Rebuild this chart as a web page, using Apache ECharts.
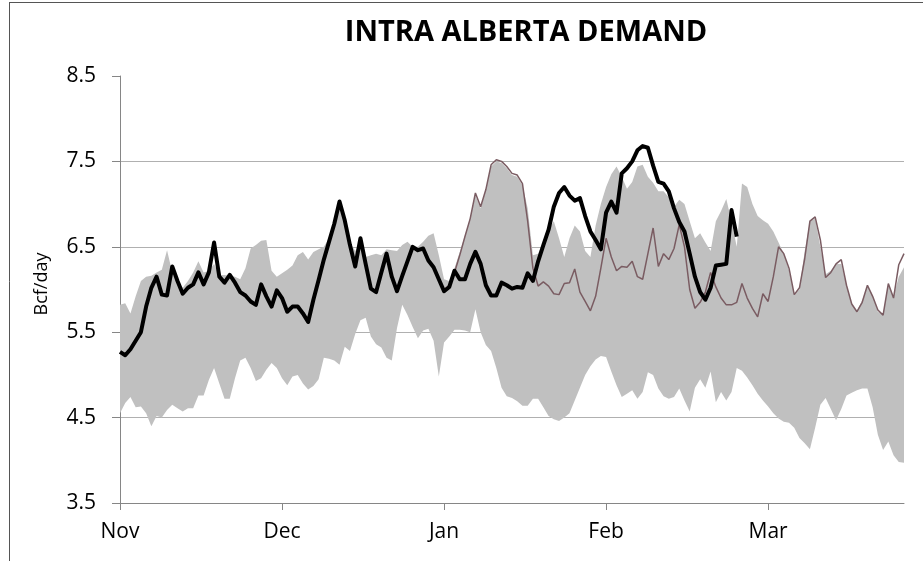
<!DOCTYPE html>
<html>
<head>
<meta charset="utf-8">
<script src="https://cdn.jsdelivr.net/npm/echarts@6/dist/echarts.min.js"></script>
<style>html,body{margin:0;padding:0;background:#fff}#chart{width:923px;height:561px}</style>
</head>
<body>
<div id="chart"></div>
<script>
// ---- data ----
const monthNames = ['Nov', 'Dec', 'Jan', 'Feb', 'Mar'];
const monthDays = [30, 31, 31, 28, 31];
const tickLabels = ['Nov', 'Dec', 'Jan', 'Feb', 'Mar'];

const bandHigh = [
 5.82,5.84,5.72,5.92,6.10,6.15,6.16,6.20,6.23,6.46,
 6.20,6.08,6.02,6.10,6.20,6.33,6.20,6.22,6.30,6.17,
 6.17,6.16,6.15,6.12,6.25,6.48,6.52,6.57,6.58,6.22,
 6.15,6.19,6.23,6.28,6.40,6.44,6.35,6.44,6.47,6.50,
 6.60,6.80,7.00,6.85,6.55,6.45,6.55,6.38,6.40,6.42,
 6.40,6.47,6.46,6.45,6.52,6.56,6.50,6.50,6.56,6.63,
 6.66,6.40,6.12,6.10,6.25,6.44,6.63,6.84,7.10,6.95,
 7.17,7.44,7.50,7.48,7.42,7.34,7.32,7.22,6.95,6.40,
 6.42,6.55,6.70,6.80,6.60,6.38,6.60,6.75,6.68,6.45,
 6.38,6.75,7.00,7.20,7.35,7.44,7.32,7.18,7.26,7.44,
 7.46,7.32,7.25,7.15,7.15,7.08,6.97,7.05,7.00,6.80,
 6.60,6.66,6.55,6.45,6.80,6.92,7.06,6.80,6.50,7.24,
 7.20,7.00,6.86,6.81,6.77,6.68,6.55,6.42,6.22,5.95,
 6.00,6.45,6.80,6.83,6.50,6.18,6.22,6.30,6.30,6.05,
 5.82,5.75,5.87,6.05,5.93,5.74,5.71,6.07,5.92,6.15,
 6.26
];
const bandLow = [
 4.55,4.67,4.74,4.62,4.63,4.55,4.40,4.52,4.50,4.59,
 4.65,4.61,4.57,4.61,4.61,4.76,4.76,4.94,5.08,4.90,
 4.72,4.72,4.96,5.17,5.20,5.08,4.93,4.96,5.06,5.14,
 5.08,4.96,4.88,4.98,5.00,4.90,4.83,4.87,4.95,5.20,
 5.19,5.17,5.12,5.33,5.28,5.48,5.64,5.67,5.45,5.36,
 5.32,5.20,5.17,5.55,5.82,5.70,5.56,5.43,5.52,5.54,
 5.40,4.98,5.38,5.45,5.53,5.53,5.52,5.50,5.77,5.50,
 5.35,5.28,5.08,4.85,4.75,4.73,4.69,4.64,4.64,4.72,
 4.72,4.62,4.52,4.48,4.46,4.50,4.55,4.70,4.85,5.00,
 5.10,5.18,5.22,5.21,5.04,4.88,4.74,4.78,4.82,4.72,
 4.80,5.03,5.00,4.84,4.75,4.72,4.74,4.84,4.70,4.57,
 4.85,4.95,4.85,5.04,4.68,4.80,4.70,4.80,5.08,5.05,
 4.97,4.88,4.78,4.70,4.63,4.55,4.49,4.45,4.44,4.38,
 4.26,4.20,4.13,4.38,4.65,4.73,4.60,4.47,4.60,4.76,
 4.79,4.82,4.84,4.84,4.62,4.30,4.12,4.22,4.06,3.98,
 3.97
];
const currentYear = [
 5.27,5.23,5.30,5.40,5.50,5.80,6.02,6.15,5.94,5.93,
 6.27,6.10,5.95,6.02,6.06,6.20,6.06,6.20,6.55,6.15,
 6.08,6.17,6.08,5.97,5.93,5.86,5.82,6.06,5.92,5.80,
 5.99,5.90,5.74,5.80,5.80,5.72,5.62,5.88,6.11,6.35,
 6.56,6.77,7.03,6.81,6.52,6.27,6.60,6.30,6.01,5.97,
 6.20,6.42,6.15,5.98,6.16,6.33,6.50,6.46,6.48,6.34,
 6.26,6.12,5.98,6.03,6.22,6.12,6.12,6.30,6.44,6.30,
 6.05,5.93,5.93,6.08,6.05,6.01,6.03,6.02,6.19,6.10,
 6.33,6.52,6.70,6.97,7.13,7.20,7.10,7.04,7.07,6.86,
 6.68,6.58,6.47,6.90,7.03,6.90,7.36,7.42,7.50,7.63,
 7.68,7.66,7.45,7.26,7.24,7.15,6.95,6.79,6.68,6.42,
 6.15,5.97,5.88,6.02,6.28,6.29,6.30,6.93,6.62
];
const priorYearStart = 61;
const priorYear = [
 6.12,6.00,6.05,6.20,6.40,6.62,6.83,7.13,6.97,
 7.17,7.46,7.52,7.50,7.44,7.36,7.34,7.24,6.80,6.25,
 6.04,6.09,6.04,5.95,5.94,6.07,6.08,6.24,5.97,5.86,
 5.75,5.92,6.25,6.60,6.38,6.22,6.27,6.26,6.33,6.15,
 6.12,6.42,6.72,6.27,6.42,6.35,6.48,6.76,6.50,6.00,
 5.78,5.85,5.97,6.20,6.03,5.90,5.82,5.82,5.85,6.07,
 5.90,5.78,5.68,5.95,5.86,6.15,6.50,6.42,6.25,5.94,
 6.02,6.36,6.80,6.85,6.58,6.14,6.20,6.30,6.35,6.05,
 5.83,5.74,5.85,6.05,5.92,5.76,5.70,6.07,5.90,6.29,
 6.42
];

// ---- derived tables ----
const categories = [];
monthNames.forEach((m, k) => { for (let d = 1; d <= monthDays[k]; d++) categories.push(m + ' ' + d); });
const bandSpan = bandHigh.map((h, i) => +(h - bandLow[i]).toFixed(3));
const priorSeries = categories.map((_, i) => (i >= priorYearStart && i - priorYearStart < priorYear.length) ? priorYear[i - priorYearStart] : null);

const FONT = 'Open Sans';
const axisColor = '#868686';

const chart = echarts.init(document.getElementById('chart'), null, { renderer: 'canvas' });
chart.setOption({
  animation: false,
  backgroundColor: '#ffffff',
  grid: { left: 120, right: 19, top: 76, bottom: 58, containLabel: false },
  xAxis: {
    type: 'category', data: categories, boundaryGap: false,
    axisLine: { lineStyle: { color: axisColor, width: 1 } },
    axisTick: { show: true, interval: 30, length: 7, lineStyle: { color: axisColor } },
    axisLabel: { interval: 30, margin: 19, fontFamily: FONT, fontSize: 21, color: '#000',
      formatter: (v, idx) => tickLabels[Math.round(idx / 31)] },
    splitLine: { show: false }
  },
  yAxis: {
    type: 'value', min: 3.5, max: 8.5, interval: 1,
    axisLine: { show: true, lineStyle: { color: axisColor, width: 1 } },
    axisTick: { show: true, length: 8, lineStyle: { color: axisColor } },
    axisLabel: { margin: 24, fontFamily: FONT, fontSize: 21, color: '#000', formatter: v => v.toFixed(1) },
    splitLine: { show: true, showMaxLine: false, showMinLine: false, lineStyle: { color: '#b0b0b0', width: 1 } }
  },
  graphic: [
    { type: 'line', shape: { x1: 9.5, y1: 2, x2: 9.5, y2: 561 }, style: { stroke: '#555', lineWidth: 1 } },
    { type: 'line', shape: { x1: 9, y1: 2.5, x2: 923, y2: 2.5 }, style: { stroke: '#555', lineWidth: 1 } },
    { type: 'text', x: 526, y: 33, style: { text: 'INTRA ALBERTA DEMAND', font: 'bold 29px "Open Sans"', fill: '#000', textAlign: 'center', textVerticalAlign: 'middle' } },
    { type: 'text', x: 42, y: 284, rotation: Math.PI / 2, style: { text: 'Bcf/day', font: '18px "Open Sans"', fill: '#000', textAlign: 'center', textVerticalAlign: 'middle' } }
  ],
  series: [
    { name: 'low', type: 'line', data: bandLow, stack: 'band', symbol: 'none', lineStyle: { opacity: 0 }, silent: true, z: 1 },
    { name: 'range', type: 'line', data: bandSpan, stack: 'band', symbol: 'none', lineStyle: { opacity: 0 }, areaStyle: { color: '#c0c0c0', opacity: 1 }, silent: true, z: 1 },
    { name: 'prior', type: 'line', data: priorSeries, symbol: 'none', connectNulls: false, lineStyle: { color: '#7a5c62', width: 1.5 }, z: 3 },
    { name: 'current', type: 'line', data: currentYear, symbol: 'none', lineStyle: { color: '#000000', width: 4, join: 'round' }, z: 4 }
  ]
});
</script>
</body>
</html>
